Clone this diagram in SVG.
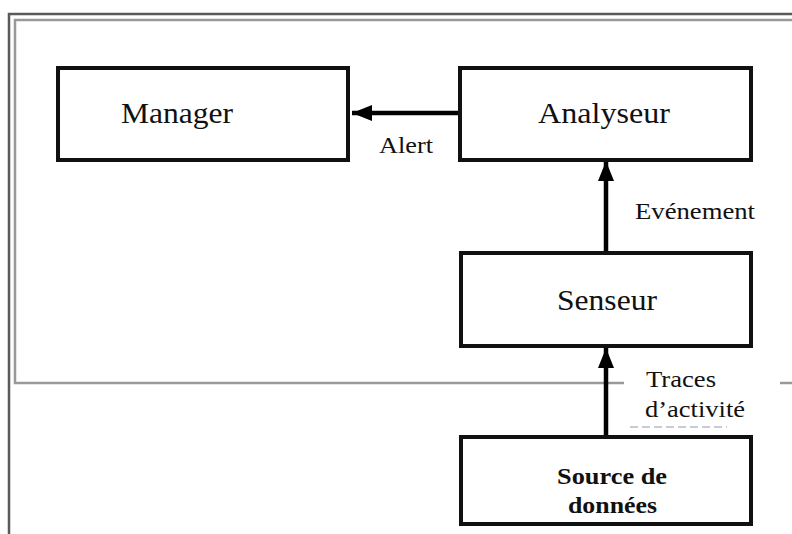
<svg xmlns="http://www.w3.org/2000/svg" width="792" height="534" viewBox="0 0 792 534">
<style>
.box{fill:#fff;stroke:#111;stroke-width:4}
.lbl{font-family:"Liberation Serif","Times New Roman",serif;fill:#111}
.conn{stroke:#000;stroke-width:4.5;fill:none}
</style>
<defs>
<marker id="ah" markerUnits="userSpaceOnUse" markerWidth="22" markerHeight="18" refX="20" refY="8" orient="auto">
<path d="M0,0 L20,8 L0,16 Z" fill="#000"/>
</marker>
</defs>
<rect width="792" height="534" fill="#fff"/>
<g id="frames">
<path d="M9,534 V14 H792" fill="none" stroke="#5a5a5a" stroke-width="2.5"/>
<path d="M624,383 H15 V20 H792" fill="none" stroke="#999" stroke-width="2.5"/>
<path d="M780,383 H792" fill="none" stroke="#999" stroke-width="2.5"/>
</g>
<g id="connectors">
<line class="conn" x1="460" y1="113" x2="352" y2="113" marker-end="url(#ah)"/>
<line class="conn" x1="606" y1="253" x2="606" y2="161" marker-end="url(#ah)"/>
<line class="conn" x1="606" y1="437" x2="606" y2="348" marker-end="url(#ah)"/>
<text class="lbl" x="379" y="153" font-size="23" textLength="54" lengthAdjust="spacingAndGlyphs">Alert</text>
<text class="lbl" x="635" y="219" font-size="24" textLength="120" lengthAdjust="spacingAndGlyphs">Evénement</text>
<text class="lbl" x="646" y="387" font-size="24" textLength="70" lengthAdjust="spacingAndGlyphs">Traces</text>
<text class="lbl" x="645" y="417" font-size="24" textLength="100" lengthAdjust="spacingAndGlyphs">d’activité</text>
<line x1="630" y1="427" x2="727" y2="427" stroke="#b8bcc8" stroke-width="1.5" stroke-dasharray="8,4"/>
</g>
<g id="manager">
<rect class="box" x="58" y="68" width="290" height="92"/>
<text class="lbl" x="121" y="123" font-size="30" textLength="112" lengthAdjust="spacingAndGlyphs">Manager</text>
</g>
<g id="analyseur">
<rect class="box" x="460" y="68" width="291" height="92"/>
<text class="lbl" x="538" y="123" font-size="29" textLength="132" lengthAdjust="spacingAndGlyphs">Analyseur</text>
</g>
<g id="senseur">
<rect class="box" x="461" y="253" width="290" height="93"/>
<text class="lbl" x="557" y="310" font-size="29" textLength="100" lengthAdjust="spacingAndGlyphs">Senseur</text>
</g>
<g id="source">
<rect class="box" x="461" y="437" width="290" height="87"/>
<text class="lbl" x="557" y="484" font-size="24" font-weight="bold" textLength="110" lengthAdjust="spacingAndGlyphs">Source de</text>
<text class="lbl" x="568" y="513" font-size="24" font-weight="bold" textLength="89" lengthAdjust="spacingAndGlyphs">données</text>
</g>
</svg>
